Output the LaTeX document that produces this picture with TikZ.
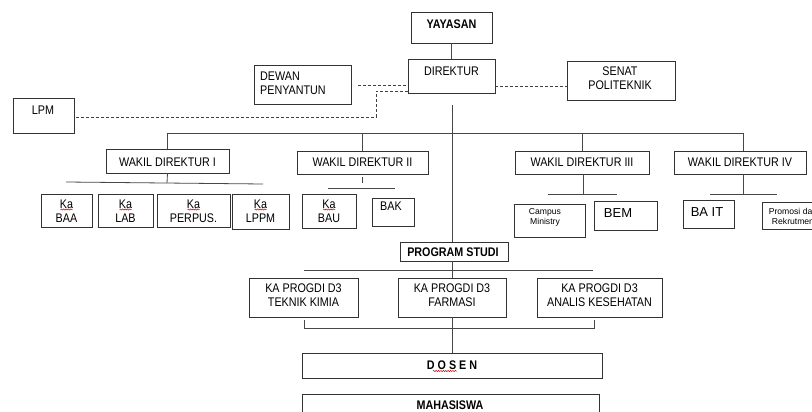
\documentclass[tikz,border=0pt]{standalone}
\usepackage{fontspec}
\setmainfont{Liberation Sans}[FakeStretch=0.86]
\newfontfamily\widefont{Liberation Sans}
\usetikzlibrary{fit,decorations.pathmorphing}
\newcommand\mybox[5]{\node[bx, fit={(#2,#3) (#4,#5)}] (#1) {};}
\newcommand\squig[3]{\draw[sq] (#1-#3,#2) -- (#1+#3,#2);}
\begin{document}
\begin{tikzpicture}[x=1pt,y=-1pt,
  bx/.style={draw=black!80, line width=0.8pt, inner sep=0pt},
  ln/.style={draw=black!72, line width=0.8pt},
  dsh/.style={draw=black!75, line width=0.7pt, dash pattern=on 3pt off 2pt},
  tx/.style={font=\fontsize{12.5}{14}\selectfont, inner sep=0pt, align=center},
  tb/.style={font=\fontsize{12.5}{14}\selectfont\bfseries, inner sep=0pt},
  ts/.style={font=\widefont\fontsize{8.6}{10}\selectfont, inner sep=0pt, align=center},
  tw/.style={font=\widefont\fontsize{13}{14}\selectfont, inner sep=0pt},
  sq/.style={draw=red!80!black, line width=0.5pt, decorate, decoration={snake, segment length=2.4pt, amplitude=0.6pt}}]
\useasboundingbox (0,0) rectangle (812,412);
\clip (0,0) rectangle (812,412);
\fill[white] (0,0) rectangle (812,412);

% top
\mybox{yay}{411}{12}{492}{43}
\node[tb] (tyay) at (451.5,24) {YAYASAN};
\mybox{dir}{408}{59}{495}{93}
\node[tx] (tdir) at (451.5,71) {DIREKTUR};
\mybox{senat}{567}{61}{675}{100}
\node[tx] (tsenat) at (620,78) {SENAT\\POLITEKNIK};
\mybox{dewan}{254}{65}{351}{104}
\node[tx, align=left, anchor=west] (tdewan) at (260,83) {DEWAN\\PENYANTUN};
\mybox{lpm}{13}{98}{74}{133}
\node[tx] (tlpm) at (43,110) {LPM};

\draw[ln] (yay.south) -- (dir.north);
\coordinate (d1) at (358,85);
\draw[dsh] (d1) -- (d1 -| dir.west);
\coordinate (c1) at (376,91);
\coordinate (c2) at (376,117);
\draw[dsh] (c1 -| dir.west) -- (c1) -- (c2) -- (c2 -| lpm.east);
\coordinate (c3) at (495,86);
\draw[dsh] (c3) -- (c3 -| senat.west);

% wakil direktur row
\mybox{wd1}{106}{149}{229}{173}
\node[tx] (twd1) at (167.5,162) {WAKIL DIREKTUR I};
\mybox{wd2}{297}{151}{428}{174}
\node[tx] (twd2) at (362.5,162) {WAKIL DIREKTUR II};
\mybox{wd3}{515}{151}{649}{174}
\node[tx] (twd3) at (582,162) {WAKIL DIREKTUR III};
\mybox{wd4}{674}{151}{806}{174}
\node[tx] (twd4) at (740,162) {WAKIL DIREKTUR IV};

\coordinate (t0) at (452,105);
\coordinate (hb1) at (167,133);
\coordinate (hb4) at (743,133);
\draw[ln] (hb1) -- (hb4);
\draw[ln] (hb1) -- (hb1 |- wd1.north);
\draw[ln] (wd2.north |- hb1) -- (wd2.north);
\draw[ln] (wd3.north |- hb1) -- (wd3.north);
\draw[ln] (hb4) -- (hb4 |- wd4.north);

% WD I children
\coordinate (w1a) at (167,183);
\draw[ln] (wd1.south) -- (w1a);
\coordinate (w1l) at (66,182);
\coordinate (w1r) at (263,184);
\draw[ln] (w1l) -- (w1r);
\mybox{baa}{41}{194}{92}{227}
\node[tx] (tbaa) at (66.5,211) {Ka\\BAA};
\mybox{lab}{98}{194}{153}{227}
\node[tx] (tlab) at (125.5,211) {Ka\\LAB};
\mybox{perp}{157}{194}{230}{227}
\node[tx] (tperp) at (193.5,211) {Ka\\PERPUS.};
\mybox{lppm}{232}{194}{289}{229}
\node[tx] (tlppm) at (260.5,211) {Ka\\LPPM};

% WD II children
\coordinate (w2a) at (362,177);
\coordinate (w2b) at (362,183);
\draw[ln] (w2a) -- (w2b);
\coordinate (w2l) at (328,188);
\coordinate (w2r) at (395,188);
\draw[ln] (w2l) -- (w2r);
\mybox{bau}{302}{194}{356}{228}
\node[tx] (tbau) at (329,211) {Ka\\BAU};
\mybox{bak}{372}{198}{414}{226}
\node[tx] (tbak) at (391,206) {BAK};

% WD III children
\coordinate (w3a) at (583,194);
\draw[ln] (wd3.south -| w3a) -- (w3a);
\coordinate (w3l) at (548,194);
\coordinate (w3r) at (617,194);
\draw[ln] (w3l) -- (w3r);
\mybox{camp}{514}{204}{585}{237}
\node[ts] (tcamp) at (545,217.5) {Campus\\Ministry};
\mybox{bem}{594}{201}{657}{230}
\node[tw] (tbem) at (618,213) {BEM};

% WD IV children
\coordinate (w4a) at (743,194);
\draw[ln] (wd4.south -| w4a) -- (w4a);
\coordinate (w4l) at (710,194);
\coordinate (w4r) at (777,194);
\draw[ln] (w4l) -- (w4r);
\mybox{bait}{683}{200}{734}{228}
\node[tw] (tbait) at (707,212) {BA IT};
\mybox{promo}{762}{202}{840}{229}
\node[ts] (tpromo) at (793,216) {Promosi dan\\Rekrutmen};

% program studi
\mybox{ps}{400}{242}{508}{261}
\node[tb] (tps) at (453,252) {PROGRAM STUDI};
\draw[ln] (t0) -- (t0 |- ps.north);

\coordinate (pb1) at (304,270);
\coordinate (pb2) at (593,270);
\draw[ln] (pb1) -- (pb2);
\mybox{kim}{249}{278}{358}{317}
\node[tx] (tkim) at (303.5,295.5) {KA PROGDI D3\\TEKNIK KIMIA};
\mybox{far}{398}{278}{506}{317}
\node[tx] (tfar) at (452,295.5) {KA PROGDI D3\\FARMASI};
\mybox{ana}{537}{278}{662}{317}
\node[tx] (tana) at (599.5,295.5) {KA PROGDI D3\\ANALIS KESEHATAN};
\coordinate (p0) at (452,261);
\draw[ln] (p0) -- (p0 |- far.north);

\coordinate (k1) at (304,320);
\coordinate (k2) at (304,328);
\coordinate (k3) at (594,328);
\coordinate (k4) at (594,320);
\draw[ln] (k1) -- (k2) -- (k3) -- (k4);

% dosen, mahasiswa
\mybox{dos}{302}{353}{602}{378}
\node[tb] (tdos) at (452,365) {D O S E N};
\coordinate (p1) at (452,317);
\draw[ln] (p1) -- (p1 |- dos.north);
\mybox{mhs}{302}{394}{599}{425}
\node[tb] (tmhs) at (450,405) {MAHASISWA};

% spell-check marks
\squig{66.5}{209.5}{6}
\squig{125.5}{209.5}{6}
\squig{193.5}{209.5}{6}
\squig{260.5}{209.5}{6}
\squig{329}{209.5}{6}
\squig{445}{371}{12}
\end{tikzpicture}
\end{document}
